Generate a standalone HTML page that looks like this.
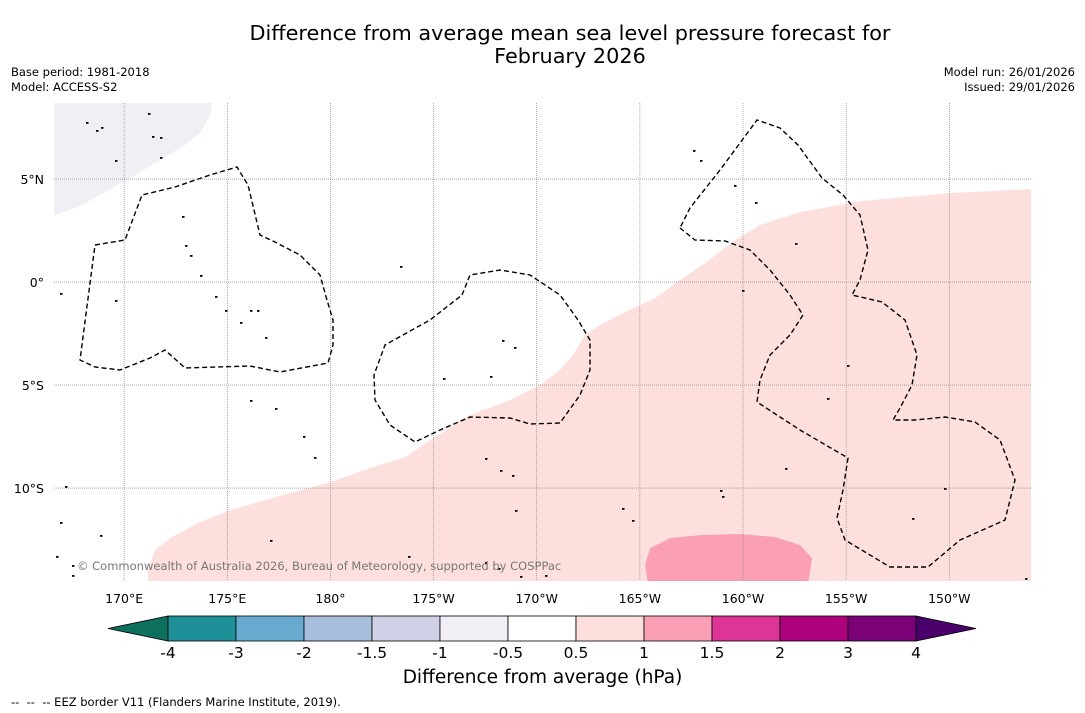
<!DOCTYPE html>
<html><head><meta charset="utf-8">
<style>
body{margin:0;background:#fff;font-family:"DejaVu Sans","Liberation Sans",sans-serif;}
#wrap{position:relative;width:1085px;height:713px;overflow:hidden;background:#fff;}
.t{position:absolute;white-space:nowrap;color:#000;}
</style></head>
<body>
<div id="wrap">
<div class="t" style="left:0;width:1140px;text-align:center;top:22px;font-size:20.8px;line-height:23px;">Difference from average mean sea level pressure forecast for<br>February 2026</div>
<div class="t" style="left:11px;top:65px;font-size:11.5px;line-height:15px;">Base period: 1981-2018<br>Model: ACCESS-S2</div>
<div class="t" style="right:10px;top:65px;font-size:11.5px;line-height:15px;text-align:right;">Model run: 26/01/2026<br>Issued: 29/01/2026</div>
<svg id="map" width="1085" height="713" style="position:absolute;left:0;top:0"></svg>
<div class="t" style="left:0;width:1085px;text-align:center;top:667px;font-size:18.5px;">Difference from average (hPa)</div>
<div class="t" style="left:11px;top:695px;font-size:11.5px;">--&nbsp; --&nbsp; -- EEZ border V11 (Flanders Marine Institute, 2019).</div>
</div>
<script>
const lonTicks=[170,175,180,185,190,195,200,205,210];
const lonLabels=["170°E","175°E","180°","175°W","170°W","165°W","160°W","155°W","150°W"];
const latTicks=[5,0,-5,-10];
const latLabels=["5°N","0°","5°S","10°S"];
const levels=[-4,-3,-2,-1.5,-1,-0.5,0.5,1,1.5,2,3,4];
const levelLabels=["-4","-3","-2","-1.5","-1","-0.5","0.5","1","1.5","2","3","4"];
const levelColors=["#1e9097","#67a9cf","#a6bddb","#d0d1e6","#f2eef6","#ffffff","#fde0dd","#fa9fb5","#dd3497","#ae017e","#7a0177"];
const underColor="#0d6f5e", overColor="#49006a";
const pinkLon=[213.96,210.04,208.44,205.68,202.77,200.83,199.62,198.16,196.95,195.74,194.28,193.07,192.35,191.76,191.13,190.16,188.71,186.77,184.83,183.62,181.92,179.99,178.05,175.14,173.68,172.23,171.5,171.16,171.16];
const pinkLat=[4.51,4.32,4.17,3.93,3.4,2.77,2.04,0.92,0.1,-0.78,-1.46,-2.09,-2.57,-3.54,-4.27,-5,-5.73,-6.46,-7.67,-8.5,-9.03,-9.71,-10.24,-11.07,-11.65,-12.43,-13.01,-13.98,-14.6];
const blobLon=[195.5,196.47,197.92,199.86,201.56,202.77,203.35,203.16,195.4,195.25];
const blobLat=[-12.91,-12.43,-12.28,-12.23,-12.38,-12.77,-13.4,-14.6,-14.6,-13.74];
const lavLon=[166.6,174.27,174.17,173.68,172.96,171.75,170.29,168.84,167.62,166.6];
const lavLat=[8.69,8.69,8.1,7.23,6.65,5.92,5.05,4.22,3.59,3.25];

const X0=54,X1=1031,Y0=103,Y1=581;
const lonMin=166.6,lonMax=213.96,latMax=8.69,latMin=-14.51;
const xs=l=>X0+(l-lonMin)/(lonMax-lonMin)*(X1-X0);
const ys=l=>Y0+(latMax-l)/(latMax-latMin)*(Y1-Y0);
const NS="http://www.w3.org/2000/svg";
const svg=document.getElementById('map');
function mk(tag,attrs,parent){const e=document.createElementNS(NS,tag);for(const k in attrs)e.setAttribute(k,attrs[k]);(parent||svg).appendChild(e);return e;}
const defs=mk('defs',{});const cp=mk('clipPath',{id:'cp'},defs);mk('rect',{x:X0,y:Y0,width:X1-X0,height:Y1-Y0},cp);
const g=mk('g',{'clip-path':'url(#cp)'});
function poly(lons,lats,fill,name,extra){
  const pts=[];const n=Math.min(lons.length,lats.length);
  for(let i=0;i<n;i++)pts.push(xs(lons[i]).toFixed(1)+','+ys(lats[i]).toFixed(1));
  if(extra)pts.push(xs(extra[0]).toFixed(1)+','+ys(extra[1]).toFixed(1));
  const p=mk('polygon',{points:pts.join(' '),fill:fill},g);
  
  
}
poly(pinkLon,pinkLat,levelColors[6],'anomaly-0.5-1',[214.5,-14.6]);
poly(blobLon,blobLat,levelColors[7],'anomaly-1-1.5');
poly(lavLon,lavLat,levelColors[4],'anomaly-minus1-minus0.5');
lonTicks.forEach((l,i)=>{
  const x=xs(l);
  const ln=mk('line',{x1:x,x2:x,y1:Y0,y2:Y1,stroke:'#777','stroke-width':0.6,'stroke-dasharray':'1,1'},g);
  
  
  const t=mk('text',{x:x,y:603,'text-anchor':'middle','font-size':12.5,'font-family':'DejaVu Sans, sans-serif'});
  t.textContent=lonLabels[i];
  
  
});
latTicks.forEach((l,i)=>{
  const y=ys(l);
  const ln=mk('line',{x1:X0,x2:X1,y1:y,y2:y,stroke:'#777','stroke-width':0.6,'stroke-dasharray':'1,1'},g);
  
  
  const t=mk('text',{x:44,y:y+5,'text-anchor':'end','font-size':12.5,'font-family':'DejaVu Sans, sans-serif'});
  t.textContent=latLabels[i];
  
  
});
const eez=[
"95,245 125,240 142,195 175,187 210,175 237,167 248,185 260,235 275,242 300,255 320,275 327,300 333,320 333,345 328,363 280,372 250,366 185,368 165,350 150,358 120,370 95,367 80,360 95,245",
"462,295 470,275 500,270 530,275 560,295 578,320 590,340 590,370 580,395 560,423 530,424 510,418 470,417 440,430 415,442 390,425 375,400 374,375 385,345 430,320 462,295",
"680,228 695,240 725,241 750,250 770,270 790,295 803,315 790,335 770,355 760,380 757,402 800,430 848,458 843,490 837,518 845,540 890,567 928,567 960,540 1005,520 1015,480 1000,440 975,422 945,417 915,420 893,420 900,408 912,385 917,355 905,320 882,302 852,295 860,280 868,250 860,215 843,195 822,178 798,145 780,128 757,120 720,170 690,208 680,228"];
eez.forEach(p=>{const e=mk('polyline',{points:p,fill:'none',stroke:'#000','stroke-width':1.4,'stroke-dasharray':'5,3'},g);

});
const isl=[[86,122],[96,130],[101,127],[115,160],[148,113],[152,136],[160,137],[160,157],[182,216],[185,245],[190,255],[200,275],[215,296],[225,310],[240,322],[250,310],[257,310],[265,337],[250,400],[275,408],[303,436],[314,457],[65,486],[60,522],[100,535],[56,556],[72,565],[72,575],[270,540],[408,556],[485,562],[498,568],[520,576],[545,575],[502,340],[514,347],[490,376],[443,378],[485,458],[500,470],[512,475],[515,510],[622,508],[632,520],[720,490],[722,496],[742,290],[755,202],[795,243],[785,468],[827,398],[847,365],[912,518],[944,488],[1025,578],[693,150],[700,160],[734,185],[400,266],[60,293],[115,300]];
isl.forEach(p=>{const e=mk('rect',{x:p[0],y:p[1],width:2.5,height:1.8,fill:'#000'},g);

});
const ct=mk('text',{x:77,y:570,'font-size':11.5,fill:'#777','font-family':'DejaVu Sans, sans-serif'});
ct.textContent='© Commonwealth of Australia 2026, Bureau of Meteorology, supported by COSPPac';


const cbX0=168,cbX1=916,cbY=616,cbH=25,segW=(cbX1-cbX0)/levelColors.length;
const cs=v=>cbX0+levels.indexOf(v)*segW;
const cb=mk('g',{});


const ua=mk('polygon',{points:`${cbX0},${cbY} ${cbX0},${cbY+cbH} 108,${cbY+cbH/2}`,fill:underColor,stroke:'#000','stroke-width':0.8},cb);


const oa=mk('polygon',{points:`${cbX1},${cbY} ${cbX1},${cbY+cbH} 976,${cbY+cbH/2}`,fill:overColor,stroke:'#000','stroke-width':0.8},cb);


levelColors.forEach((c,i)=>{
  const r=mk('rect',{x:cs(levels[i]),y:cbY,width:segW,height:cbH,fill:c,stroke:'#000','stroke-width':0.8},cb);
  
  
});
levels.forEach((v,i)=>{
  const t=mk('text',{x:cs(v),y:658,'text-anchor':'middle','font-size':15.5,'font-family':'DejaVu Sans, sans-serif'},cb);
  t.textContent=levelLabels[i];
  
  
});
</script>
</body></html>
